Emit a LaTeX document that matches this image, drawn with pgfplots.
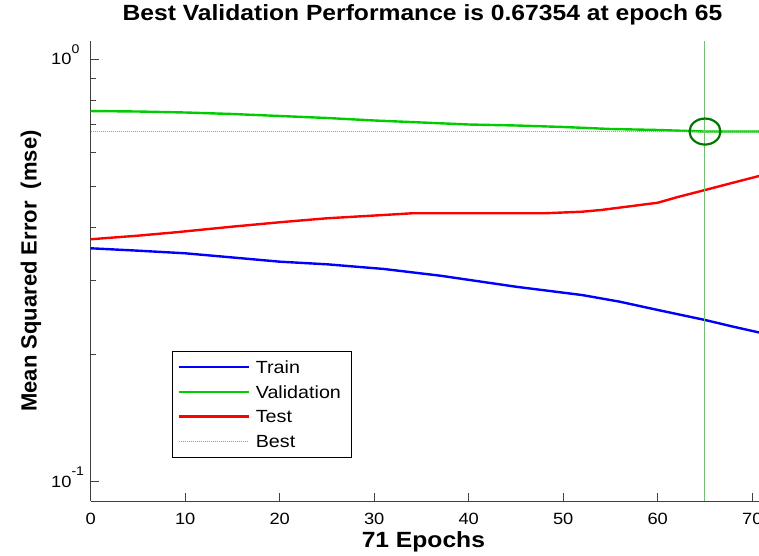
\documentclass[border=0pt]{standalone}
\usepackage{fontspec}
\setmainfont{Liberation Sans}[FakeStretch=1.12]
\newfontfamily\ylabfont{Liberation Sans}
\usepackage{pgfplots}
\pgfplotsset{compat=1.18}
\definecolor{trainc}{RGB}{0,0,255}
\definecolor{valc}{RGB}{0,204,0}
\definecolor{testc}{RGB}{255,0,0}
\definecolor{bestc}{RGB}{115,190,115}
\definecolor{circc}{RGB}{0,120,0}
\begin{document}
\begin{tikzpicture}
\useasboundingbox (0,0) rectangle (759bp,556bp);
\begin{axis}[
  at={(90.7bp,55bp)}, anchor=south west,
  scale only axis, width=671bp, height=460bp,
  xmin=0, xmax=71, ymode=log, ymin=0.09, ymax=1.103,
  axis lines=left,
  axis line style={-, draw=black!75, line width=1bp},
  tick align=inside, major tick length=8bp, minor tick length=5bp,
  tick style={black!75, line width=0.8bp},
  /pgf/number format/assume math mode=true,
  xtick={0,10,...,70},
  xticklabels={0,10,20,30,40,50,60,70},
  ytick={0.1,1},
  yticklabels={{10\rlap{\raisebox{11.7bp}{\fontsize{12.6bp}{13bp}\selectfont -1}}},{10\rlap{\raisebox{11.7bp}{\fontsize{12.6bp}{13bp}\selectfont 0}}}},
  minor ytick={0.09,0.2,0.3,0.4,0.5,0.6,0.7,0.8,0.9},
  tick label style={font=\fontsize{16.3bp}{18bp}\selectfont},
  xticklabel style={anchor=base, yshift=-23bp, inner sep=0pt},
  yticklabel style={anchor=base east, xshift=-19bp, yshift=-5.85bp, inner sep=0pt},
  title={Best Validation Performance is 0.67354 at epoch 65},
  title style={at={(0.4945,1)}, anchor=base, yshift=15bp, inner sep=0pt, font=\bfseries\fontsize{22bp}{26bp}\selectfont},
  xlabel={71 Epochs},
  ylabel={Mean Squared Error\ \ (mse)},
  every axis x label/.style={at={(0.4958,0)}, anchor=base, yshift=-46bp, inner sep=0pt, font=\bfseries\fontsize{22bp}{26bp}\selectfont},
  every axis y label/.style={at={(-0.0805,0.5)}, anchor=base, rotate=90, inner sep=0pt, font=\ylabfont\bfseries\fontsize{22bp}{26bp}\selectfont},
  legend style={at={(0.1216,0.326)}, anchor=north west, draw=black, line width=0.9bp,
    inner xsep=4.7bp, inner ysep=3.45bp, row sep=0pt, column sep=0pt,
    font=\fontsize{17.6bp}{20bp}\selectfont,
    nodes={inner xsep=6bp, inner ysep=0pt, text height=12.6bp, text depth=0pt, minimum height=24.7bp}},
  legend cell align=left,
  legend image code/.code={\path (-8bp,0bp) -- (0bp,0bp); \draw[#1] (0bp,0bp) -- (62bp,0bp);},
]
\addplot[color=trainc, line width=2.4bp] coordinates {
(0,0.3566) (5,0.3520) (10,0.3470) (15,0.3392) (20,0.3315) (25,0.3268) (31,0.3186)
(37,0.3071) (45,0.2892) (52,0.2764) (56,0.2665) (60,0.2548) (65,0.2413) (68,0.2326) (71,0.2247)};
\addlegendentry{Train}
\addplot[color=valc, line width=2.4bp] coordinates {
(0,0.7533) (5,0.7513) (10,0.7472) (15,0.7411) (20,0.7331) (25,0.7252) (30,0.7154)
(35,0.7076) (40,0.6999) (45,0.6961) (50,0.6905) (55,0.6830) (60,0.6793) (65,0.67354) (71,0.6736)};
\addlegendentry{Validation}
\addplot[color=testc, line width=2.4bp] coordinates {
(0,0.3746) (5,0.3820) (9,0.3891) (15,0.4012) (20,0.4109) (25,0.4199) (31,0.4275) (34,0.4315)
(48,0.4315) (52,0.4352) (54,0.4393) (60,0.4570) (62,0.4707) (65,0.4898) (68,0.5099) (71,0.5306)};
\addlegendentry{Test}
\addplot[draw=bestc, dash pattern=on 1.2bp off 0.8bp, line width=1bp] coordinates {(0,0.67354) (71,0.67354)};
\addlegendentry{Best}
\addplot[draw=bestc, line width=1bp, forget plot] coordinates {(65,0.09) (65,1.103)};
\addplot[color=circc, only marks, mark=o, mark size=13bp, mark options={xscale=1.19, line width=2.2bp}, forget plot] coordinates {(65,0.67354)};
\end{axis}
\end{tikzpicture}
\end{document}
